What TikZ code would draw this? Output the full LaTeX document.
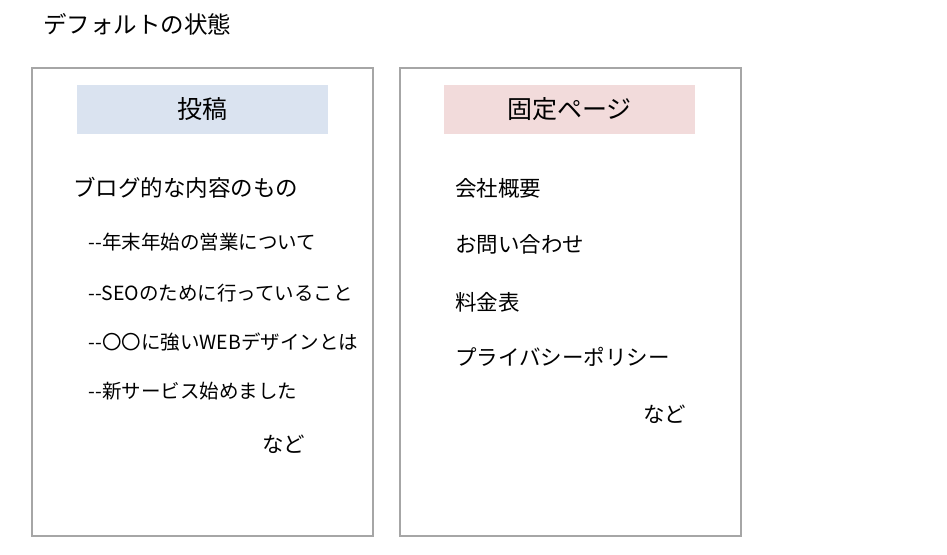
\documentclass[tikz,border=0pt]{standalone}
\usepackage{fontspec}
\setmainfont{Noto Sans CJK JP}
\usetikzlibrary{positioning}
\definecolor{framegray}{HTML}{A6A6A6}
\definecolor{postblue}{HTML}{DAE3F0}
\definecolor{pagepink}{HTML}{F2DBDB}
\tikzstyle{frame}=[draw=framegray,line width=2.4pt,minimum width=341pt,minimum height=468pt,inner sep=0pt]
\tikzstyle{head}=[minimum width=251pt,minimum height=49pt,inner sep=0pt,font=\fontsize{25}{25}\selectfont]
\tikzstyle{item}=[anchor=west,inner sep=0pt,font=\fontsize{21.5}{21.5}\selectfont]
\tikzstyle{sub}=[anchor=west,inner sep=0pt,font=\fontsize{19.5}{19.5}\selectfont]
\newcommand{\newItem}[4]{\node[#3](#1) at #4 {#2};}
\newcommand{\dd}{-\kern0.5pt-}

\begin{document}
\begin{tikzpicture}[x=1pt,y=-1pt]
    \useasboundingbox (0,0) rectangle (947,554);
    \newItem{title}{デフォルトの状態}{item,font=\fontsize{23.5}{23.5}\selectfont}{(43,24)}
    % left: posts
    \newItem{posts}{}{frame}{(202.5,302)}
    \newItem{postsHead}{投稿}{head,fill=postblue}{(202.5,109.5)}
    \newItem{blog}{ブログ的な内容のもの}{item,font=\fontsize{22.5}{22.5}\selectfont}{(73,188)}
    \newItem{p1}{\dd 年末年始の営業について}{sub}{(88,242)}
    \newItem{p2}{\dd SEOのために行っていること}{sub}{(88,293)}
    \newItem{p3}{\dd 〇〇に強いWEBデザインとは}{sub}{(88,342)}
    \newItem{p4}{\dd 新サービス始めました}{sub}{(88,391)}
    \newItem{pEtc}{など}{item}{(262,444)}
    % right: fixed pages
    \newItem{pages}{}{frame}{(570.5,302)}
    \newItem{pagesHead}{固定ページ}{head,fill=pagepink}{(569.5,109.5)}
    \newItem{q1}{会社概要}{item}{(455,188)}
    \newItem{q2}{お問い合わせ}{item}{(455,244)}
    \newItem{q3}{料金表}{item}{(455,302)}
    \newItem{q4}{プライバシーポリシー}{item}{(455,357)}
    \newItem{qEtc}{など}{item}{(643,414)}
\end{tikzpicture}
\end{document}
